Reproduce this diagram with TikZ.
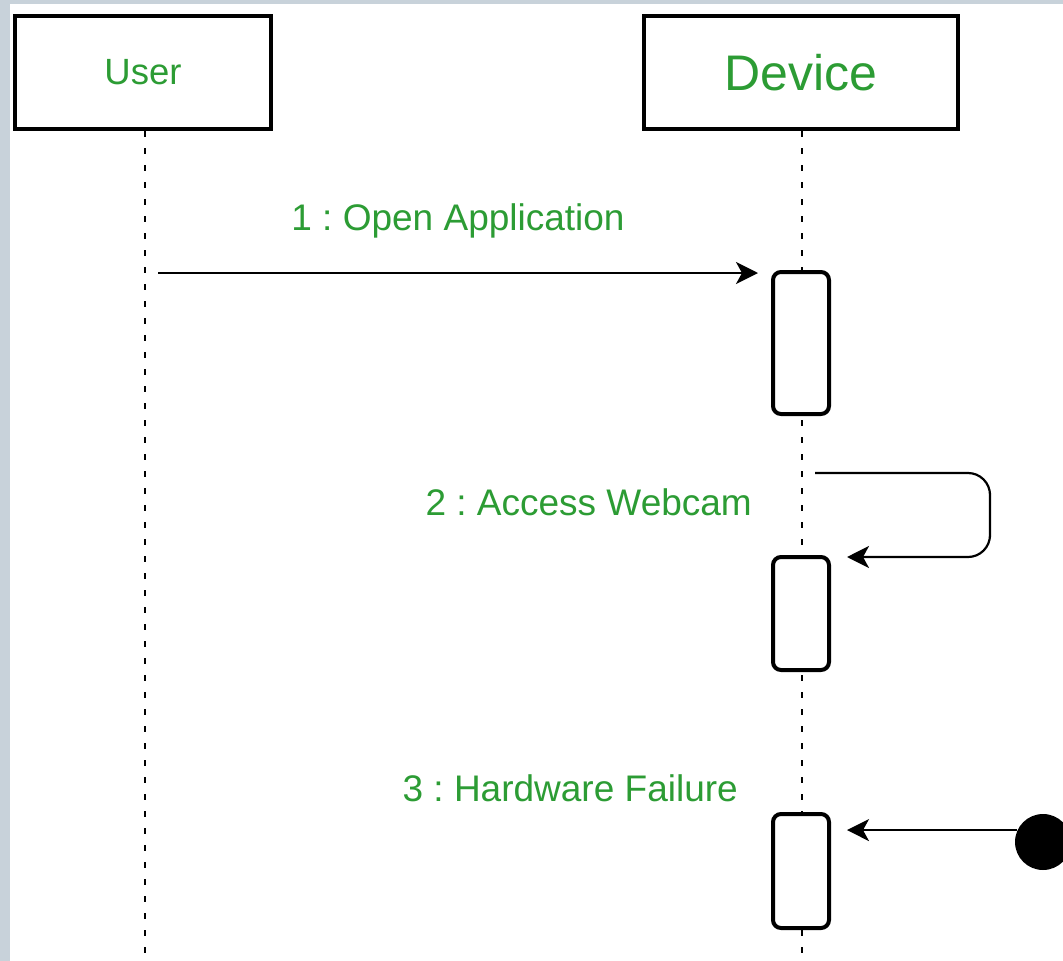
\documentclass[tikz,border=0pt]{standalone}
\usepackage{fontspec}
\setmainfont{Liberation Sans}
\usepackage{tikz}
\usetikzlibrary{arrows.meta}
\usetikzlibrary{positioning}
\frenchspacing
\definecolor{labelgreen}{RGB}{44,156,52}
\definecolor{framegray}{RGB}{200,210,218}
\tikzstyle{actor_box} = [
    rectangle,
    draw=black,
    fill=white,
    line width=4.5pt,
    text=labelgreen,
    align=center,
    minimum width=256pt,
    minimum height=113pt
]
\tikzstyle{activation} = [
    rectangle,
    rounded corners=8pt,
    draw=black,
    fill=white,
    line width=4pt,
    minimum width=56pt
]
\tikzstyle{lifeline} = [
    line width=2.8pt,
    dash pattern=on 6pt off 11pt
]
\tikzstyle{msg} = [
    -{Stealth[length=22pt, width=22pt, inset=6pt]},
    line width=2.2pt
]
\tikzstyle{msg_label} = [
    text=labelgreen,
    font=\fontsize{37}{41}\selectfont,
    inner sep=0pt
]
\tikzstyle{lost_end} = [
    circle,
    fill=black,
    inner sep=0pt,
    minimum size=56pt
]
\begin{document}
\begin{tikzpicture}[x=1pt, y=-1pt]
\useasboundingbox (0,0) rectangle (1063,961);
\fill[framegray] (0,0) rectangle (1063,961);
\fill[white] (10,4) rectangle (1063,961);

\node [actor_box, minimum width=256pt] (user) at (143,72.5)
    {\fontsize{36.5}{40}\selectfont\raisebox{-6pt}{User}};
\node [actor_box, minimum width=314pt] (device) at (801,72.5)
    {\fontsize{50}{54}\selectfont Device};

\coordinate (user_end) at (145,961);
\coordinate (device_end) at (802,961);
\draw [lifeline] (user.south -| user_end) -- (user_end);
\draw [lifeline] (device.south -| device_end) -- (device_end);

\node [activation, minimum height=142pt] (act1) at (801,343) {};
\node [activation, minimum height=113pt] (act2) at (801,613.5) {};
\node [activation, minimum height=114pt] (act3) at (801,871) {};
\node [lost_end] (fail) at (1043,842) {};

% 1 : open
\coordinate (m1_start) at (158,273);
\draw [msg, shorten >=13pt] (m1_start) -- ([yshift=-3pt]act1.north west);
\node [msg_label, anchor=base] (lab1) at (458,230) {1 : Open Application};

% 2 : self call
\coordinate (m2_start) at (815,473);
\coordinate (m2_turn) at (990,515);
\draw [msg, rounded corners=22pt, shorten >=16pt]
    (m2_start) -| (m2_turn) |- ([yshift=-2pt]act2.north east);
\node [msg_label, anchor=base east] (lab2) at (752,515) {2 : Access Webcam};

% 3 : lost message
\draw [msg, shorten >=16pt] (fail.155) -- (fail.155 -| act3.east);
\node [msg_label, anchor=base east] (lab3) at (738,801) {3 : Hardware Failure};
\end{tikzpicture}
\end{document}
